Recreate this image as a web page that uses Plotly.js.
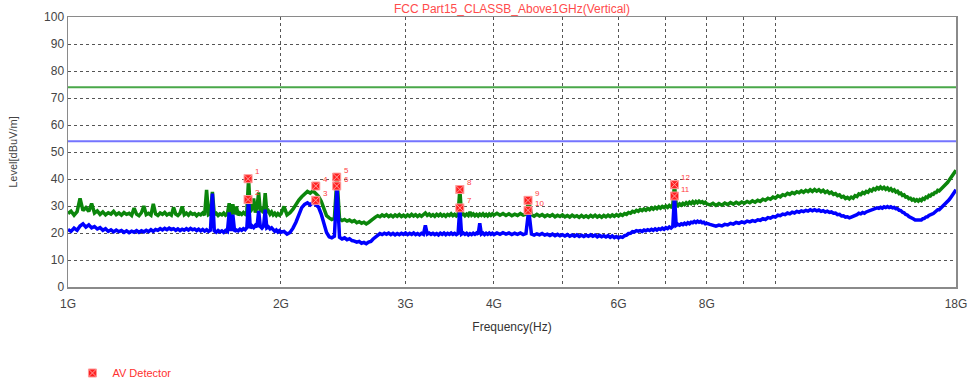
<!DOCTYPE html>
<html><head><meta charset="utf-8">
<script src="https://cdn.plot.ly/plotly-3.0.1.min.js"></script>
<style>html,body{margin:0;padding:0;background:#fff;} #chart{width:968px;height:385px;}</style>
</head><body><div id="chart"></div>
<script>
// Sweep frequencies (MHz)
const freqMHz = [
1000,1010,1020,1030,1040,1050,1060,1070,1080,1090,
1100,1110,1120,1130,1140,1150,1160,1170,1180,1190,
1200,1210,1220,1230,1240,1250,1260,1270,1280,1290,
1300,1310,1320,1330,1340,1350,1360,1370,1380,1390,
1400,1410,1420,1430,1440,1450,1460,1470,1480,1490,
1500,1510,1520,1530,1540,1550,1560,1570,1580,1590,
1600,1610,1620,1630,1640,1650,1660,1670,1680,1690,
1700,1710,1720,1730,1740,1750,1760,1770,1780,1790,
1800,1810,1820,1830,1840,1850,1860,1870,1880,1890,
1900,1910,1920,1930,1940,1950,1960,1970,1980,1990,
2000,
2020,2040,2060,2080,2100,2120,2140,2160,2180,2200,
2220,2240,2260,2280,2300,2320,2340,2360,2380,2400,
2420,2440,2460,2480,2500,2520,2540,2560,2580,2600,
2620,2640,2660,2680,2700,2720,2740,2760,2780,2800,
2820,2840,2860,2880,2900,2920,2940,2960,2980,3000,
3020,3040,3060,3080,3100,3120,3140,3160,3180,3200,
3220,3240,3260,3280,3300,3320,3340,3360,3380,3400,
3420,3440,3460,3480,3500,3520,3540,3560,3580,3600,
3620,3640,3660,3680,3700,3720,3740,3760,3780,3800,
3820,3840,3860,3880,3900,3920,3940,3960,3980,4000,
4040,4080,4120,4160,4200,4240,4280,4320,4360,4400,
4440,4480,4520,4560,4600,4640,4680,4720,4760,4800,
4840,4880,4920,4960,5000,5040,5080,5120,5160,5200,
5240,5280,5320,5360,5400,5440,5480,5520,5560,5600,
5640,5680,5720,5760,5800,5840,5880,5920,5960,6000,
6040,6080,6120,6160,6200,6240,6280,6320,6360,6400,
6440,6480,6520,6560,6600,6640,6680,6720,6760,6800,
6840,6880,6920,6960,7000,7040,7080,7120,7160,7200,
7240,7280,7320,7360,7400,7440,7480,7520,7560,7600,
7640,7680,7720,7760,7800,7840,7880,7920,7960,8000,
8080,8160,8240,8320,8400,8480,8560,8640,8720,8800,
8880,8960,9040,9120,9200,9280,9360,9440,9520,9600,
9680,9760,9840,9920,10000,10080,10160,10240,10320,10400,
10480,10560,10640,10720,10800,10880,10960,11040,11120,11200,
11280,11360,11440,11520,11600,11680,11760,11840,11920,12000,
12080,12160,12240,12320,12400,12480,12560,12640,12720,12800,
12880,12960,13040,13120,13200,13280,13360,13440,13520,13600,
13680,13760,13840,13920,14000,14080,14160,14240,14320,14400,
14480,14560,14640,14720,14800,14880,14960,15040,15120,15200,
15280,15360,15440,15520,15600,15680,15760,15840,15920,16000,
16080,16160,16240,16320,16400,16480,16560,16640,16720,16800,
16880,16960,17040,17120,17200,17280,17360,17440,17520,17600,
17680,17760,17840,17920,18000
];
// Peak trace (green), dBuV/m
const peakLevel = [
27.2,28.1,26.6,27.9,32.8,28.3,29.4,28.0,30.9,27.4,
28.2,26.9,27.8,26.7,27.5,27.0,28.0,26.8,27.4,26.6,
27.6,26.9,27.3,26.5,29.2,27.0,26.4,27.5,30.0,26.8,
27.3,26.6,30.8,27.1,26.5,27.4,26.9,27.6,26.7,27.2,
26.6,29.5,27.0,26.5,27.3,29.8,26.8,27.4,26.6,27.5,
26.9,27.2,26.4,27.1,26.7,27.4,26.6,36.0,26.8,27.2,
35.2,26.9,27.3,26.5,27.1,26.7,27.4,26.6,27.0,31.0,
26.8,30.6,26.9,29.8,26.6,27.4,26.9,27.6,27.0,28.0,
40.0,27.8,29.0,32.8,27.6,29.5,35.0,27.9,28.6,27.4,
34.8,27.6,28.2,27.0,27.8,26.7,27.3,26.5,27.2,26.6,
27.1,
29.8,26.7,27.5,28.8,30.6,32.2,33.4,34.6,35.4,34.8,
35.6,34.6,33.6,31.8,28.6,26.4,25.6,25.0,25.4,40.6,
25.2,24.6,25.0,24.4,24.8,24.2,24.6,23.8,24.2,23.6,
24.0,23.4,23.9,24.4,25.2,25.9,26.4,26.0,26.7,26.2,
26.8,26.1,26.6,26.0,26.7,26.2,26.8,26.1,26.6,26.0,
26.7,26.2,26.9,26.3,26.8,26.1,26.7,26.2,26.9,27.4,
26.5,27.0,26.3,26.8,26.2,26.9,26.4,27.0,26.3,26.8,
26.2,26.9,26.5,27.1,26.4,26.9,26.3,26.8,36.2,26.6,
27.1,26.4,27.0,26.5,27.8,26.6,27.1,26.4,26.9,26.3,
27.0,26.5,27.1,26.4,26.9,26.3,27.0,26.5,27.1,26.6,
27.3,26.6,27.2,26.5,27.1,26.4,27.0,26.5,27.2,26.6,
27.0,32.0,26.8,26.2,26.9,26.3,26.8,26.1,26.7,26.2,
26.8,26.0,26.6,26.1,26.7,26.0,26.5,25.9,26.6,26.0,
26.4,25.8,26.5,25.9,26.4,25.8,26.5,26.0,26.6,25.9,
26.4,25.8,26.5,26.0,26.6,26.1,26.7,26.2,26.8,26.3,
26.9,26.5,27.2,26.9,27.6,27.3,28.0,27.7,28.4,28.0,
28.7,28.3,28.9,28.4,29.1,28.6,29.3,28.8,29.5,29.0,
29.7,29.2,29.8,29.4,30.0,29.5,30.2,29.7,30.4,38.0,
30.6,30.1,30.8,30.3,31.0,30.5,31.2,30.7,31.4,30.9,
31.6,31.0,31.7,31.2,31.8,31.3,31.6,31.0,31.4,30.8,
30.4,31.0,30.2,30.9,30.3,31.1,30.5,31.3,30.7,31.4,
30.8,31.5,31.0,31.7,31.2,31.9,31.4,32.1,31.7,32.5,
32.1,32.9,32.5,33.3,32.9,33.8,33.4,34.2,33.9,34.7,
34.3,35.0,34.6,35.3,34.9,35.6,35.1,35.8,35.3,36.0,
35.4,36.1,35.5,36.0,35.3,35.8,35.0,35.5,34.7,35.1,
34.3,34.6,33.8,34.1,33.3,33.6,32.8,33.2,32.6,33.3,
32.9,33.8,33.5,34.5,34.2,35.0,34.6,35.4,35.1,36.0,
35.6,36.4,36.0,36.8,36.3,37.0,36.4,36.9,36.2,36.7,
35.9,36.4,35.6,36.0,35.2,35.5,34.6,34.8,33.9,34.1,
33.3,33.4,32.7,32.9,32.2,32.5,31.9,32.3,31.8,32.4,
32.0,32.8,32.5,33.3,33.1,33.9,33.7,34.4,34.3,35.0,
35.0,35.8,35.6,36.1,36.5,37.0,37.5,38.1,38.8,39.5,
40.2,41.0,41.8,42.5,43.2
];
// Average trace (blue), dBuV/m
const avgLevel = [
21.3,20.6,21.8,21.0,22.6,23.4,22.2,23.0,21.9,22.4,
21.5,22.0,21.0,21.6,20.6,21.2,20.4,21.1,20.5,20.9,
20.2,20.8,20.1,20.7,20.3,20.9,20.2,20.8,20.4,21.0,
20.5,21.2,20.6,21.3,21.0,21.6,21.1,21.7,21.2,21.8,
21.3,21.6,21.0,21.5,20.9,21.4,21.0,21.6,21.1,21.7,
21.2,21.5,20.9,21.4,20.8,21.3,20.7,21.2,20.6,21.0,
34.6,20.8,20.3,20.9,20.4,20.8,20.2,20.9,20.5,27.6,
20.7,26.8,20.6,21.1,20.8,21.4,21.0,21.6,21.2,22.0,
32.2,21.8,22.6,22.0,22.8,22.2,28.2,22.4,21.8,22.5,
28.6,21.9,22.3,21.5,21.9,21.0,20.6,21.1,20.4,20.9,
20.3,
20.6,19.6,20.2,21.8,24.0,27.2,29.4,30.6,31.2,30.4,
31.3,30.5,29.6,27.0,23.8,20.2,18.6,18.2,18.8,37.2,
18.4,17.8,18.2,17.5,17.9,17.2,17.0,16.6,16.9,16.2,
16.5,16.0,16.6,16.9,17.8,18.6,19.4,19.8,19.4,19.9,
19.5,20.0,19.4,19.9,19.3,19.8,19.4,19.9,19.5,20.0,
19.4,19.9,19.5,20.0,19.4,19.8,19.3,19.9,19.5,22.8,
19.6,20.0,19.5,19.9,19.4,19.8,19.3,19.9,19.5,20.0,
19.4,19.9,19.5,20.0,19.5,19.9,19.4,19.8,29.4,19.6,
20.0,19.5,19.9,19.3,19.8,19.4,19.9,19.5,20.0,19.5,
23.6,19.6,20.0,19.4,19.9,19.5,20.0,19.5,19.9,19.4,
20.0,19.5,20.1,19.6,20.0,19.4,19.9,19.5,20.0,19.4,
19.8,28.5,19.6,19.2,19.7,19.3,19.8,19.2,19.6,19.1,
19.6,19.0,19.5,19.0,19.4,18.9,19.4,18.8,19.3,18.8,
19.3,18.7,19.2,18.7,19.2,18.8,19.3,18.8,19.2,18.6,
19.1,18.6,19.0,18.5,19.0,18.4,18.9,18.3,18.7,18.2,
18.6,18.4,19.0,19.2,19.8,19.9,20.5,20.4,20.9,20.7,
20.9,20.6,21.1,20.8,21.2,20.9,21.4,21.0,21.5,21.1,
21.6,21.3,21.8,21.4,22.0,21.6,22.2,21.8,22.4,33.7,
22.8,23.2,22.9,23.4,23.1,23.6,23.2,23.8,23.4,24.0,
23.8,24.3,23.9,24.4,24.0,24.3,23.8,24.0,23.4,23.6,
23.2,22.8,22.5,22.9,22.6,23.2,23.0,23.6,23.3,23.9,
23.6,24.1,23.8,24.4,24.1,24.6,24.3,24.9,24.7,25.3,
25.0,25.7,25.5,26.1,25.9,26.6,26.4,27.0,26.8,27.4,
27.1,27.7,27.4,28.0,27.7,28.2,27.9,28.4,28.1,28.6,
28.2,28.6,28.2,28.5,28.0,28.3,27.8,28.1,27.6,27.8,
27.3,27.4,26.8,26.9,26.3,26.4,25.9,26.0,25.6,25.9,
26.1,26.6,26.8,27.3,27.1,27.6,27.3,27.8,28.0,28.5,
28.4,28.9,28.8,29.3,29.1,29.5,29.2,29.7,29.4,29.8,
29.4,29.7,29.3,29.5,29.0,29.0,28.4,28.3,27.7,27.5,
26.9,26.7,26.1,25.9,25.4,25.2,24.8,24.8,24.6,24.9,
24.8,25.3,25.4,25.9,26.0,26.5,26.6,27.0,27.2,27.7,
28.0,28.6,28.6,29.1,29.5,30.0,30.4,31.0,31.6,32.3,
33.0,33.8,34.5,35.2,36.0
];
// Limit lines
const limitFreq = [1000, 18000];
const peakLimit = [74, 74];
const avgLimit = [54, 54];
// AV detector markers
const markerFreq  = [1797, 1797, 2240, 2240, 2398, 2398, 3580, 3580, 4470, 4470, 7200, 7200];
const markerLevel = [40.1, 32.4, 32.1, 37.4, 40.7, 37.4, 29.3, 36.1, 32.1, 28.4, 33.7, 37.9];
const markerLabel = ['1','2','3','4','5','6','7','8','9','10','11','12'];
// Axis ticks
const xTickVals = [1000,2000,3000,4000,5000,6000,7000,8000,9000,10000,18000];
const xTickText = ['1G','2G','3G','4G','','6G','','8G','','','18G'];
const yTickVals = [0,10,20,30,40,50,60,70,80,90,100];

const traces = [
  {x: limitFreq, y: peakLimit, mode: 'lines', line: {color: '#4aa84a', width: 2}, showlegend: false, hoverinfo: 'skip'},
  {x: limitFreq, y: avgLimit, mode: 'lines', line: {color: '#7474ff', width: 2}, showlegend: false, hoverinfo: 'skip'},
  {x: freqMHz, y: peakLevel, mode: 'lines', line: {color: '#0b860b', width: 3.5}, showlegend: false, hoverinfo: 'skip'},
  {x: freqMHz, y: avgLevel, mode: 'lines', line: {color: '#0000ff', width: 3.5}, showlegend: false, hoverinfo: 'skip'},
  {x: markerFreq, y: markerLevel, mode: 'markers', name: 'AV Detector',
   marker: {symbol: 'square-x', size: 8, color: '#ff2020', line: {color: '#ff9a9a', width: 1}},
   showlegend: true, hoverinfo: 'skip'}
];

// Marker number labels (built from the marker arrays)
const labelAnnotations = markerLabel.map((t, i) => ({
  x: Math.log10(markerFreq[i]), y: markerLevel[i], xref: 'x', yref: 'y',
  text: t, showarrow: false, xanchor: 'left', yanchor: 'middle',
  xshift: 5, yshift: 7,
  font: {family: 'Liberation Sans, Arial, sans-serif', size: 8, color: '#ff4040'}
}));

const layout = {
  width: 968, height: 385,
  margin: {l: 68, r: 12, t: 17, b: 98, autoexpand: false},
  paper_bgcolor: '#ffffff', plot_bgcolor: '#ffffff',
  font: {family: 'Liberation Sans, Arial, sans-serif', size: 12, color: '#444444'},
  title: {text: 'FCC Part15_CLASSB_Above1GHz(Vertical)',
          font: {family: 'Liberation Sans, Arial, sans-serif', size: 12, color: '#ff4b4b'},
          x: 0.5, xref: 'paper', xanchor: 'center', y: 0.977, yref: 'container', yanchor: 'middle'},
  xaxis: {type: 'log', range: [Math.log10(1000), Math.log10(18000)],
          tickmode: 'array', tickvals: xTickVals, ticktext: xTickText,
          showgrid: true, gridcolor: '#555555', griddash: 'dot', gridwidth: 1,
          showline: true, mirror: true, linecolor: '#8a8a8a', linewidth: 1.5,
          ticks: '', zeroline: false, automargin: false, ticklabelstandoff: 5,
          tickfont: {size: 12, color: '#444444'},
          title: {text: 'Frequency(Hz)', font: {size: 12, color: '#333333'}, standoff: 12}},
  yaxis: {range: [0, 100], tickmode: 'array', tickvals: yTickVals,
          showgrid: true, gridcolor: '#555555', griddash: 'dot', gridwidth: 1,
          showline: true, mirror: true, linecolor: '#8a8a8a', linewidth: 1.5,
          ticks: '', zeroline: false, automargin: false,
          tickfont: {size: 12, color: '#444444'},
          title: {text: 'Level[dBuV/m]', font: {size: 11, color: '#444444'}, standoff: 24}},
  annotations: labelAnnotations,
  showlegend: true,
  legend: {x: 0.005, y: -0.3185, xanchor: 'left', yanchor: 'middle',
           font: {size: 11, color: '#ff3030'}, bgcolor: 'rgba(0,0,0,0)'},
  hovermode: false
};

Plotly.newPlot('chart', traces, layout, {displayModeBar: false, staticPlot: true});
</script>
</body></html>
